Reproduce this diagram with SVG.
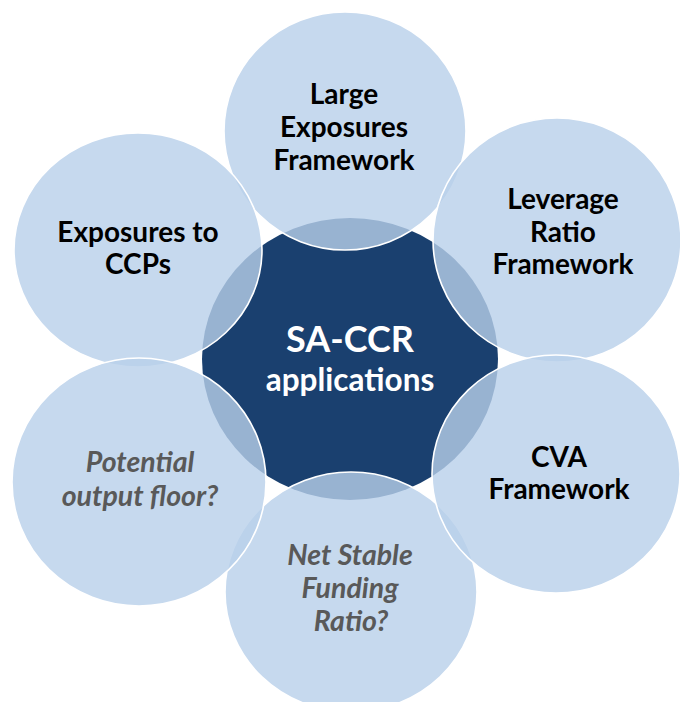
<svg xmlns="http://www.w3.org/2000/svg" width="680" height="702" viewBox="0 0 680 702">
<style>
.bubble{fill:#b8cfea;fill-opacity:0.8;stroke:#ffffff;stroke-width:1.6}
.lbl{font-family:Lato,"Liberation Sans",sans-serif;font-weight:700;font-size:28px;fill:#000000;text-anchor:middle}
.q{font-style:italic;fill:#595959;font-size:28.5px}
.core{font-family:Lato,"Liberation Sans",sans-serif;font-weight:700;fill:#ffffff;text-anchor:middle}
</style>
<rect width="680" height="702" fill="#ffffff"/>
<g id="center">
<ellipse cx="350" cy="359" rx="148" ry="141" fill="#1a406f"/>
</g>
<g id="connectors"></g>
<g id="nsfr">
<ellipse class="bubble" cx="351" cy="592" rx="126" ry="120"/>
<text class="lbl q" x="350" y="565">Net Stable</text>
<text class="lbl q" x="350" y="598">Funding</text>
<text class="lbl q" x="351" y="631">Ratio?</text>
</g>
<g id="large-exposures">
<ellipse class="bubble" cx="345" cy="131" rx="121" ry="119"/>
<text class="lbl" x="344" y="104">Large</text>
<text class="lbl" x="344" y="137">Exposures</text>
<text class="lbl" x="344" y="170">Framework</text>
</g>
<g id="ccps">
<ellipse class="bubble" cx="138" cy="250" rx="124" ry="117"/>
<text class="lbl" x="138" y="242">Exposures to</text>
<text class="lbl" x="138" y="274">CCPs</text>
</g>
<g id="leverage">
<ellipse class="bubble" cx="557" cy="240" rx="124" ry="122"/>
<text class="lbl" x="563" y="209">Leverage</text>
<text class="lbl" x="563" y="242">Ratio</text>
<text class="lbl" x="563" y="274">Framework</text>
</g>
<g id="output-floor">
<ellipse class="bubble" cx="139" cy="482" rx="127" ry="124"/>
<text class="lbl q" x="140" y="472">Potential</text>
<text class="lbl q" x="140" y="506">output floor?</text>
</g>
<g id="cva">
<ellipse class="bubble" cx="556" cy="474" rx="124" ry="119"/>
<text class="lbl" x="559" y="467">CVA</text>
<text class="lbl" x="559" y="499">Framework</text>
</g>
<g id="core-label">
<text class="core" x="350" y="352" font-size="36">SA-CCR</text>
<text class="core" x="350" y="391" font-size="31.5">applications</text>
</g>
</svg>
